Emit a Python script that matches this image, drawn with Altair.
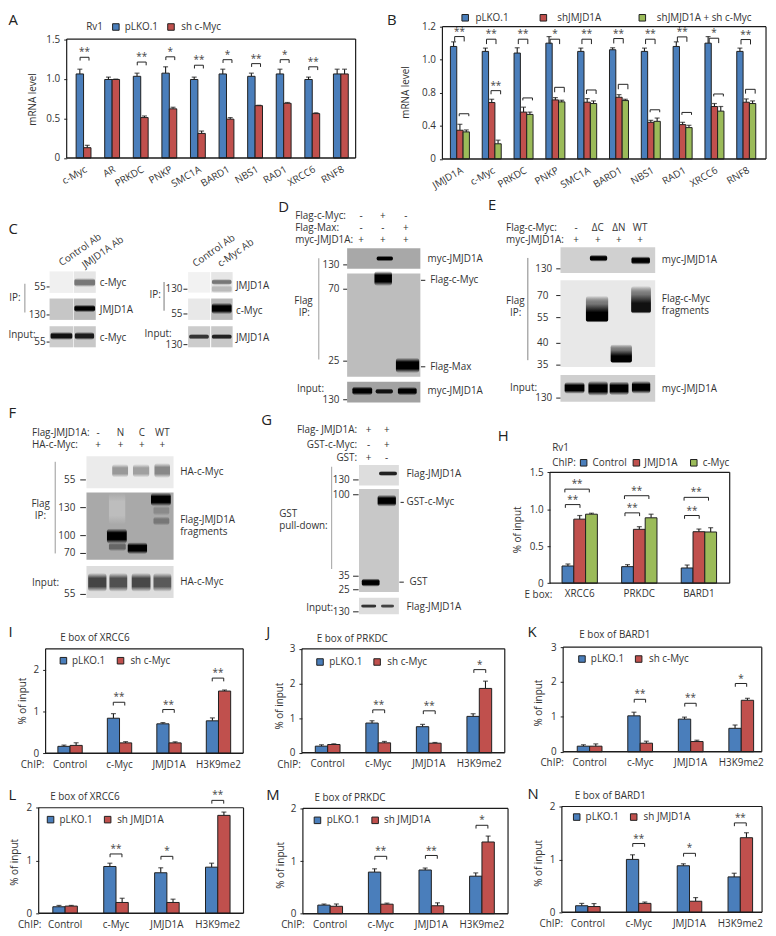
import altair as alt
import pandas as pd

FONT = "Open Sans"
INK = "#333333"
BLUE, RED, GREEN = "#4a7ebb", "#c0504d", "#9bbb59"
OFF = 8
W, H = 768, 928

# ---------- bar chart values ----------
A_cats = ["c-Myc", "AR", "PRKDC", "PNKP", "SMC1A", "BARD1", "NBS1", "RAD1", "XRCC6", "RNF8"]
A_plko = [1.06, 0.99, 1.03, 1.07, 0.99, 1.06, 1.03, 1.06, 0.99, 1.06]
A_plko_err = [0.06, 0.03, 0.04, 0.08, 0.03, 0.06, 0.04, 0.06, 0.03, 0.06]
A_sh = [0.13, 0.99, 0.51, 0.62, 0.31, 0.49, 0.66, 0.69, 0.56, 1.06]
A_sh_err = [0.03, 0.005, 0.02, 0.02, 0.03, 0.02, 0.005, 0.01, 0.01, 0.06]
A_br_cats = ["c-Myc", "PRKDC", "PNKP", "SMC1A", "BARD1", "NBS1", "RAD1", "XRCC6"]
A_br = [1.27, 1.21, 1.276, 1.17, 1.24, 1.19, 1.24, 1.15]
A_st = ["**", "**", "*", "**", "*", "**", "*", "**"]

B_cats = ["JMJD1A", "c-Myc", "PRKDC", "PNKP", "SMC1A", "BARD1", "NBS1", "RAD1", "XRCC6", "RNF8"]
B_plko = [1.08, 1.05, 1.04, 1.10, 1.05, 1.06, 1.05, 1.08, 1.10, 1.05]
B_plko_err = [0.028, 0.02, 0.032, 0.04, 0.02, 0.012, 0.02, 0.028, 0.04, 0.02]
B_sh = [0.348, 0.684, 0.568, 0.716, 0.688, 0.748, 0.444, 0.416, 0.636, 0.688]
B_sh_err = [0.072, 0.04, 0.06, 0.028, 0.044, 0.032, 0.024, 0.028, 0.036, 0.04]
B_shc = [0.328, 0.184, 0.54, 0.692, 0.672, 0.708, 0.456, 0.38, 0.58, 0.672]
B_shc_err = [0.024, 0.044, 0.028, 0.02, 0.032, 0.016, 0.04, 0.028, 0.056, 0.032]
B_up = [1.14, 1.124, 1.124, 1.124, 1.124, 1.128, 1.124, 1.138, 1.13, 1.122]
B_up_st = ["**", "**", "**", "*", "**", "**", "**", "**", "*", "**"]
B_lo = [0.548, 0.814, 0.74, 0.834, 0.818, 0.852, 0.596, 0.564, 0.788, 0.822]
B_lo_st = ["", "**", "", "", "", "", "", "", "", ""]

H_cats = ["XRCC6", "PRKDC", "BARD1"]
H_ctrl = [0.232, 0.223, 0.205]
H_ctrl_err = [0.027, 0.027, 0.04]
H_jm = [0.866, 0.728, 0.696]
H_jm_err = [0.049, 0.036, 0.036]
H_myc = [0.933, 0.884, 0.692]
H_myc_err = [0.013, 0.049, 0.058]
H_up = [1.272, 1.183, 1.161]
H_lo = [1.063, 0.951, 0.915]
H_st = ["**", "**", "**"]

CH = ["Control", "c-Myc", "JMJD1A", "H3K9me2"]
CH3 = CH[1:]
I_b = [0.167, 0.84, 0.706, 0.778]; I_be = [0.03, 0.11, 0.03, 0.07]
I_r = [0.19, 0.25, 0.25, 1.49];    I_re = [0.063, 0.03, 0.025, 0.025]
I_br = [1.222, 1.048, 1.80];       I_st = ["**", "**", "**"]
J_b = [0.19, 0.857, 0.752, 1.05];  J_be = [0.04, 0.067, 0.067, 0.076]
J_r = [0.238, 0.286, 0.276, 1.857]; J_re = [0.02, 0.04, 0.02, 0.21]
J_br = [1.238, 1.21, 2.4];         J_st = ["**", "**", "*"]
K_b = [0.16, 1.03, 0.936, 0.672];  K_be = [0.04, 0.104, 0.057, 0.095]
K_r = [0.16, 0.246, 0.293, 1.476]; K_re = [0.066, 0.057, 0.038, 0.057]
K_br = [1.504, 1.39, 1.958];       K_st = ["**", "**", "*"]
L_b = [0.125, 0.8875, 0.769, 0.875]; L_be = [0.025, 0.0625, 0.094, 0.075]
L_r = [0.1375, 0.206, 0.206, 1.856]; L_re = [0.0125, 0.08, 0.0625, 0.0625]
L_br = [1.125, 1.08, 2.14];        L_st = ["**", "*", "**"]
M_b = [0.1625, 0.79, 0.83, 0.7125]; M_be = [0.02, 0.0625, 0.0375, 0.0625]
M_r = [0.14, 0.18, 0.15, 1.3625];  M_re = [0.044, 0.02, 0.056, 0.1125]
M_br = [1.09, 1.106, 1.68];        M_st = ["**", "**", "*"]
N_b = [0.125, 1.0, 0.88, 0.67];    N_be = [0.044, 0.0875, 0.0375, 0.069]
N_r = [0.11, 0.17, 0.21, 1.41];    N_re = [0.056, 0.025, 0.069, 0.094]
N_br = [1.3, 1.115, 1.69];         N_st = ["**", "*", "**"]

# ---------- chart helpers ----------
def px_x(f="x", f2=None):
    return alt.X(f + ":Q", scale=alt.Scale(domain=[0, W], range=[0, W], nice=False), axis=None)

def px_y(f="y"):
    return alt.Y(f + ":Q", scale=alt.Scale(domain=[0, H], range=[0, H], nice=False), axis=None)


def bar_panel(cats, series, frame, xr, ydom, yrange, yvals, barw, brackets, ytitle, ytx, yty,
              angle=0, lab_pad=6, tick_lab_pad=4, axis_size=10, cap=5):
    l, t, r, b = [v - OFF for v in frame]
    rx = [xr[0] - OFF, xr[1] - OFF]
    ry = [v - OFF for v in yrange]
    n = len(series)
    names = [s[0] for s in series]
    step = (rx[1] - rx[0]) / len(cats)
    rows = []
    for name, col, vals, errs in series:
        for c, v, e in zip(cats, vals, errs):
            rows.append({"cat": c, "s": name, "v": v, "top": v + e})
    df = pd.DataFrame(rows)
    sx = alt.Scale(type="band", domain=cats, range=rx, paddingInner=0, paddingOuter=0)
    sy = alt.Scale(domain=ydom, range=ry, nice=False, zero=False)
    x_noax = alt.X("cat:N", scale=sx, axis=None)
    y_noax = alt.Y("v:Q", scale=sy, axis=None)
    half = step / 2
    pt_off = alt.XOffset("s:N", scale=alt.Scale(type="point", domain=names, padding=0,
                                                range=[half - barw * (n - 1) / 2, half + barw * (n - 1) / 2]))
    band_off = alt.XOffset("s:N", scale=alt.Scale(type="band", domain=names, paddingInner=0, paddingOuter=0,
                                                  range=[half - barw * n / 2, half + barw * n / 2]))
    xaxis = alt.Axis(orient="bottom", offset=-(H - b), ticks=False, domain=False, grid=False, title=None,
                     labelFont=FONT, labelFontSize=axis_size, labelColor=INK, labelPadding=lab_pad,
                     labelAngle=angle, labelOverlap=False, labelLimit=200,
                     **({"labelAlign": "right", "labelBaseline": "top"} if angle else {}))
    whole = all(float(v).is_integer() for v in yvals)
    yaxis = alt.Axis(orient="left", offset=-l, values=yvals, domain=False, grid=False,
                     tickSize=3, tickColor="#222222", labelPadding=tick_lab_pad,
                     labelFont=FONT, labelFontSize=axis_size, labelColor=INK,
                     labelExpr=("format(datum.value,'d')" if whole else
                                "datum.value == 0 ? '0' : format(datum.value,'.1f')"),
                     title=ytitle, titleFont=FONT, titleFontSize=axis_size, titleFontWeight="normal",
                     titleColor=INK, titleX=ytx - frame[0], titleY=yty - OFF, titleAngle=270,
                     titleAlign="center", titleBaseline="middle")
    layers = []
    layers.append(alt.Chart(df).mark_rule(color="#1a1a1a", strokeWidth=1.1).encode(
        x=x_noax, xOffset=pt_off, y=y_noax, y2="top:Q"))
    layers.append(alt.Chart(df).mark_tick(color="#1a1a1a", orient="horizontal", size=cap, thickness=1.2).encode(
        x=x_noax, xOffset=pt_off, y=alt.Y("top:Q", scale=sy, axis=None)))
    layers.append(alt.Chart(df).mark_bar(stroke="#1f1f1f", strokeWidth=1).encode(
        x=alt.X("cat:N", scale=sx, axis=xaxis), xOffset=band_off,
        y=alt.Y("v:Q", scale=sy, axis=yaxis),
        fill=alt.Fill("s:N", legend=None, scale=alt.Scale(domain=names, range=[s[1] for s in series]))))
    u = (ydom[-1] - ydom[0]) / abs(ry[0] - ry[-1])
    for bcats, tops, stars, (a, c) in brackets:
        rows = []
        for k, v in zip(bcats, tops):
            d = 3.3 * u
            rows += [{"cat": k, "side": "L", "o": 0, "y": v - d}, {"cat": k, "side": "L", "o": 1, "y": v},
                     {"cat": k, "side": "R", "o": 2, "y": v}, {"cat": k, "side": "R", "o": 3, "y": v - d}]
        layers.append(alt.Chart(pd.DataFrame(rows)).mark_line(color="#222222", strokeWidth=1).encode(
            x=x_noax,
            xOffset=alt.XOffset("side:N", scale=alt.Scale(type="point", domain=["L", "R"], padding=0,
                                                          range=[half + a, half + c])),
            y=alt.Y("y:Q", scale=sy, axis=None), order="o:Q", detail="cat:N"))
        tdf = pd.DataFrame({"cat": bcats, "v": tops, "t": stars})
        layers.append(alt.Chart(tdf).mark_text(font=FONT, fontSize=10, color="#444444", baseline="middle",
                                               dx=(a + c) / 2, dy=-5).encode(
            x=x_noax, y=y_noax, text="t:N"))
    return layers


def two(cats, nb, nr, eb, er, label2):
    return [("pLKO.1", BLUE, nb, eb), (label2, RED, nr, er)]


layers = []
# ---------- blot drawing tables ----------
BG = [
    (50, 74, 269.3, 291, "#f0f0f0"), (74.6, 96.7, 269.3, 291, "#e6e6e6"),
    (50, 74, 296.7, 318.3, "#c6c6c6"), (74.6, 96.7, 296.7, 318.3, "#b8b8b8"),
    (50, 74, 324.7, 346, "#cccccc"), (74.6, 96.7, 324.7, 346, "#c8c8c8"),
    (190, 212.3, 270, 290.7, "#f2f2f2"), (213.3, 235, 270, 290.7, "#e6e6e6"),
    (190, 212.3, 296.7, 318.3, "#e8e8e8"), (213.3, 235, 296.7, 318.3, "#b8b8b8"),
    (190, 212.3, 324.7, 346, "#cccccc"), (213.3, 235, 324.7, 346, "#c8c8c8"),
    (350.7, 424.7, 246, 266.7, "#a8a8a8"), (350.7, 424.7, 271.3, 375.7, "#bdbdbd"),
    (350.7, 424.7, 380.7, 401.7, "#a2a2a2"),
    (566.3, 662, 245, 271, "#d0d0d0"), (566.3, 662, 278.3, 366, "#e8e8e8"),
    (566.3, 662, 374, 401, "#cfcfcf"),
    (87.3, 175.3, 456, 488.3, "#ebebeb"), (87.3, 175.3, 492.7, 560.7, "#a9a9a9"),
    (87.3, 175.3, 567, 599.3, "#dddddd"),
    (362.7, 403, 465, 485.7, "#dddddd"), (362.7, 403, 489.3, 593.3, "#c8c8c8"),
    (362.7, 403, 599, 615.7, "#dddddd"),
]
BANDS = [
    (75, 96, 276, 285, "#777777", "soft"), (75, 96, 303, 310.5, "#000000", "soft"),
    (51, 73, 330.5, 338.5, "#111111", "soft"), (75.5, 95, 330.5, 338.5, "#1c1c1c", "soft"),
    (214, 234, 283, 291, "#bbbbbb", "soft"), (214, 234, 277, 283, "#777777", "soft"),
    (214, 234, 301, 312.5, "#000000", "soft"),
    (191, 211, 332.5, 338, "#333333", "soft"), (214, 234, 332.5, 338, "#222222", "soft"),
    (380.5, 397, 253.5, 259, "#000000", "soft"), (378.3, 396, 269, 284, "#000000", "soft"),
    (400, 423.5, 356.5, 372, "#000000", "soft"),
    (356, 376, 385.5, 394.5, "#000000", "soft"), (379.5, 397, 387.5, 393.5, "#111111", "soft"),
    (402, 421, 386, 394.5, "#000000", "soft"),
    (596, 613.5, 252.5, 259.5, "#000000", "soft"), (638, 656.7, 254, 262.5, "#000000", "soft"),
    (592, 614.5, 294, 321, "#000000", "ramp"), (637.7, 657.7, 284, 312, "#111111", "ramp"),
    (617, 638.5, 343, 362, "#000000", "ramp"),
    (570.5, 590.5, 381, 393, "#000000", "soft"), (594.5, 614, 380, 395, "#000000", "soft"),
    (616, 635, 380.5, 394.5, "#000000", "soft"), (638.5, 657, 380, 393, "#000000", "soft"),
    (113.3, 129.3, 464, 477.5, "#999999", "soft"), (134.3, 150.7, 464, 477.5, "#a0a0a0", "soft"),
    (156, 171.7, 463, 478, "#888888", "soft"),
    (110, 126.5, 493, 525, "#bdbdbd", "soft"), (110, 127, 543, 552, "#666666", "soft"),
    (155, 171, 506, 516, "#8a8a8a", "soft"), (155, 171, 517, 526, "#777777", "soft"),
    (152.5, 172.5, 493, 506.5, "#000000", "soft"), (108, 128, 529, 544.5, "#000000", "soft"),
    (129, 148.5, 543, 555, "#000000", "soft"),
    (89, 107.5, 574, 593, "#444444", "soft"), (110.5, 128.5, 574, 593, "#505050", "soft"),
    (133, 152, 574, 593, "#484848", "soft"), (155, 173, 574, 593, "#5a5a5a", "soft"),
    (383, 401, 471, 476, "#222222", "soft"), (381.5, 400, 495, 507, "#000000", "soft"),
    (365.5, 383.5, 579.5, 588, "#000000", "soft"),
    (365, 380, 605.5, 609.5, "#333333", "soft"), (385, 398, 605.5, 609.5, "#444444", "soft"),
]
RULES = [
    (25, 281.7, 25, 310.7, "#b0b0b0", 1.4), (165.7, 280, 165.7, 309, "#555555", 0.8),
    (322, 256, 322, 358.3, "#b8b8b8", 1.4), (533.3, 255.7, 533.3, 359, "#666666", 0.8),
    (55.7, 461.7, 55.7, 554.3, "#999999", 1), (335, 466.7, 335, 570, "#b0b0b0", 1.2),
]
TICKS = [
    (47, 285, 50), (47, 313.3, 50), (47, 340.7, 50),
    (185.3, 287.3, 189.3), (185.3, 312.3, 189.3), (185.3, 343.3, 189.3),
    (346.7, 262.7, 350.7), (346.7, 287.3, 350.7), (346.7, 360, 350.7), (346.7, 399, 350.7),
    (425.3, 278.3, 429.7), (425.3, 365.7, 429.7),
    (562, 266.7, 566.3), (562, 293.7, 566.3), (562, 316, 566.3), (562, 342, 566.3), (562, 364, 566.3), (562, 397.3, 566.3),
    (81, 480, 86.7), (81, 508, 86.7), (81, 536.3, 86.7), (81, 554.3, 86.7), (81, 595.7, 86.7),
    (356.7, 480, 362.3), (356.7, 495, 362.3), (356.7, 577.3, 362.3), (356.7, 591, 362.3), (356.7, 613.3, 362.3),
    (404.7, 502.7, 408), (403.5, 583.3, 408),
]
SWATCHES = [
    (117, 22.3, BLUE), (172.7, 22.3, RED),
    (470, 13, BLUE), (549, 13, RED), (649, 13, GREEN),
    (589.7, 462.7, BLUE), (643, 462.7, RED), (701, 462.7, GREEN),
    (64, 662.7, BLUE), (121.7, 662.7, RED),
    (323.3, 664, BLUE), (381, 664, RED),
    (588, 661, BLUE), (645.3, 661, RED),
    (51, 823.3, BLUE), (108.7, 823.3, RED),
    (320.7, 824, BLUE), (379, 824, RED),
    (582.7, 820.7, BLUE), (640.3, 820.7, RED),
]
LETTERS = [
    (8.5, 15, "A"), (391, 15, "B"), (8.5, 226.7, "C"), (281, 204, "D"), (493, 202.7, "E"), (8.5, 412.7, "F"),
    (264, 420, "G"), (503, 436, "H"), (8.5, 634, "I"), (269, 634, "J"), (533, 634, "K"),
    (8.5, 798.3, "L"), (269, 798, "M"), (533, 797, "N"),
]
TEXT_LEFT = [
    (87, 22.3, "Rv1"), (126, 22.3, "pLKO.1"), (183, 22.3, "sh c-Myc"),
    (480.3, 13, "pLKO.1"), (563, 13, "shJMJD1A"), (663.7, 13, "shJMJD1A + sh c-Myc"),
    (100.7, 281, "c-Myc"), (100.7, 308.3, "JMJD1A"), (100.7, 336.7, "c-Myc"),
    (9.3, 295.7, "IP:"), (8.5, 334, "Input:"),
    (238.3, 283.7, "JMJD1A"), (238.3, 309.3, "c-Myc"), (238.3, 336.7, "JMJD1A"),
    (151, 293.3, "IP:"), (146, 332.7, "Input:"),
    (298.3, 213.3, "Flag-c-Myc:"), (298.3, 225.3, "Flag-Max:"), (298.3, 237.7, "myc-JMJD1A:"),
    (297.3, 299, "Flag"), (301.7, 311, "IP:"), (300, 387.7, "Input:"),
    (432, 256.7, "myc-JMJD1A"), (434.7, 278.3, "Flag-c-Myc"), (434.7, 365.7, "Flag-Max"), (432, 390.3, "myc-JMJD1A"),
    (511.3, 225, "Flag-c-Myc:"), (511.3, 237.3, "myc-JMJD1A:"),
    (511.3, 299.3, "Flag"), (515.3, 311.7, "IP:"), (515.3, 386.7, "Input:"),
    (668.7, 257.7, "myc-JMJD1A"), (668.7, 297.3, "Flag-c-Myc"), (668.7, 309.3, "fragments"), (668.7, 388.3, "myc-JMJD1A"),
    (32.3, 432.7, "Flag-JMJD1A:"), (32.3, 445, "HA-c-Myc:"),
    (31.7, 504.3, "Flag"), (35, 516.7, "IP:"), (32.3, 583.7, "Input:"),
    (182, 471.7, "HA-c-Myc"), (182, 520.7, "Flag-JMJD1A"), (182, 532.7, "fragments"), (182, 583, "HA-c-Myc"),
    (282, 514.3, "GST"), (282, 526.7, "pull-down:"), (309.3, 609, "Input:"),
    (410.7, 474.3, "Flag-JMJD1A"), (410.7, 502.7, "GST-c-Myc"), (413.7, 583.3, "GST"), (410.7, 608.7, "Flag-JMJD1A"),
    (558, 448, "Rv1"), (558, 462.7, "ChIP:"), (598.7, 462.7, "Control"), (651, 462.7, "JMJD1A"), (710, 462.7, "c-Myc"),
    (530, 596, "E box:"),
    (60.7, 640, "E box of XRCC6"), (72.7, 662.7, "pLKO.1"), (131.7, 662.7, "sh c-Myc"), (21, 767.7, "ChIP:"),
    (320, 640.7, "E box of PRKDC"), (332.7, 664, "pLKO.1"), (391.3, 664, "sh c-Myc"), (280, 768, "ChIP:"),
    (585.3, 637, "E box of BARD1"), (597, 661, "pLKO.1"), (655.7, 661, "sh c-Myc"), (546, 766.3, "ChIP:"),
    (50.7, 800, "E box of XRCC6"), (60, 823.3, "pLKO.1"), (118.3, 823.3, "sh JMJD1A"), (18, 929.3, "ChIP:"),
    (317.7, 801.3, "E box of PRKDC"), (330, 824, "pLKO.1"), (388, 824, "sh JMJD1A"), (284, 930, "ChIP:"),
    (580.7, 799.3, "E box of BARD1"), (591.7, 820.7, "pLKO.1"), (650.3, 820.7, "sh JMJD1A"), (545, 928.3, "ChIP:"),
]
TEXT_RIGHT = [
    (46, 285, "55"), (46, 313.3, "130"), (46, 340.7, "55"),
    (184.3, 287.3, "130"), (184.3, 312.3, "55"), (184.3, 343.3, "130"),
    (343, 262.7, "130"), (343, 287.3, "70"), (343, 360, "25"), (343, 399, "130"),
    (558, 266.7, "130"), (554, 293.7, "70"), (554, 316, "55"), (554, 342, "40"), (554, 364, "35"), (558, 397.3, "130"),
    (76, 480, "55"), (76, 508, "130"), (76, 536.3, "100"), (76, 554.3, "70"), (76, 595.7, "55"),
    (353.3, 480, "130"), (353.3, 495, "100"), (353.3, 577.3, "35"), (353.3, 591, "25"), (353.3, 613.3, "130"),
    (360.7, 430, "Flag- JMJD1A:"), (360.7, 444.3, "GST-c-Myc:"), (360.7, 458.3, "GST:"),
]
TEXT_CENTER = [
    (364.7, 213.3, "-"), (386.7, 213.3, "+"), (410, 213.3, "-"),
    (364.7, 225.3, "-"), (386.7, 225.3, "-"), (410, 225.3, "+"),
    (364.7, 237.7, "+"), (386.7, 237.7, "+"), (410, 237.7, "+"),
    (582, 225, "-"), (604, 225, "ΔC"), (625.3, 225, "ΔN"), (646.7, 225, "WT"),
    (582, 237.3, "+"), (604, 237.3, "+"), (625.3, 237.3, "+"), (646.7, 237.3, "+"),
    (99, 432.7, "-"), (121.7, 432.7, "N"), (143.3, 432.7, "C"), (164, 432.7, "WT"),
    (99, 445, "+"), (121.7, 445, "+"), (143.3, 445, "+"), (164, 445, "+"),
    (372.3, 430, "+"), (390.7, 430, "+"), (372.3, 444.3, "-"), (390.7, 444.3, "+"),
    (372.3, 458.3, "+"), (390.7, 458.3, "-"),
]
TEXT_SLANT = [
    (60.7, 261.7, "Control Ab"), (84, 264, "JMJD1A Ab"), (195.7, 262.7, "Control Ab"), (221, 262.7, "c-Myc Ab"),
]


def frame_df(rows, cols):
    d = pd.DataFrame(rows, columns=cols)
    for c in d.columns:
        if c in ("x", "x2", "y", "y2"):
            d[c] = d[c] - OFF
    return d


layers.append(alt.Chart(frame_df(BG, ["x", "x2", "y", "y2", "f"])).mark_rect().encode(
    x=px_x(), x2="x2:Q", y=px_y(), y2="y2:Q", fill=alt.Fill("f:N", scale=None)))
band_df = frame_df(BANDS, ["x", "x2", "y", "y2", "c", "st"])
for (c, st), g in band_df.groupby(["c", "st"], sort=False):
    t = "rgba(%d,%d,%d,0)" % tuple(int(c[i:i + 2], 16) for i in (1, 3, 5))
    if st == "soft":
        stops = [alt.GradientStop(offset=0, color=t), alt.GradientStop(offset=0.28, color=c),
                 alt.GradientStop(offset=0.72, color=c), alt.GradientStop(offset=1, color=t)]
    else:
        stops = [alt.GradientStop(offset=0, color=t), alt.GradientStop(offset=0.3, color="#777777"),
                 alt.GradientStop(offset=0.62, color=c), alt.GradientStop(offset=0.93, color=c),
                 alt.GradientStop(offset=1, color=t)]
    grad = alt.LinearGradient(gradient="linear", stops=stops, x1=0, y1=0, x2=0, y2=1)
    layers.append(alt.Chart(g).mark_rect(fill=grad, cornerRadius=3).encode(
        x=px_x(), x2="x2:Q", y=px_y(), y2="y2:Q"))

layers += bar_panel(A_cats, two(A_cats, A_plko, A_sh, A_plko_err, A_sh_err, "sh c-Myc"),
                    (67.3, 34.5, 359.3, 154.7), (69.9, 358.8), [0, 1.5], [154.7, 34.5], [0, 0.5, 1, 1.5], 7.5,
                    [(A_br_cats, A_br, A_st, (-3.5, 5.5))], "mRNA level", 32.3, 95, angle=330, lab_pad=6)
layers += bar_panel(B_cats, [("pLKO.1", BLUE, B_plko, B_plko_err), ("shJMJD1A", RED, B_sh, B_sh_err),
                             ("shJMJD1A + sh c-Myc", GREEN, B_shc, B_shc_err)],
                    (447, 22, 774, 155.7), (448.6, 770.1), [0, 0.4, 0.8, 1.0, 1.2], [155.7, 122.3, 89, 55.3, 22],
                    [0, 0.4, 0.8, 1.0, 1.2], 6.4,
                    [(B_cats, B_up, B_up_st, (-5.3, 4.3)), (B_cats, B_lo, B_lo_st, (-0.7, 9))],
                    "mRNA level", 409.7, 88, angle=330, lab_pad=6)
layers += bar_panel(H_cats, [("Control", BLUE, H_ctrl, H_ctrl_err), ("JMJD1A", RED, H_jm, H_jm_err),
                             ("c-Myc", GREEN, H_myc, H_myc_err)],
                    (555.7, 472.3, 737.3, 584.3), (555.6, 736.3), [0, 1.5], [584.3, 472.3], [0, 0.5, 1, 1.5], 11.9,
                    [(H_cats, H_up, H_st, (-15, 9.7)), (H_cats, H_lo, H_st, (-14.5, 0.3))],
                    "% of input", 523, 530)
layers += bar_panel(CH, two(CH, I_b, I_r, I_be, I_re, "sh c-Myc"), (46, 650.7, 245.7, 756.3), (45.7, 245.7),
                    [0, 2.5], [756.3, 650.7], [0, 1, 2], 12.3, [(CH3, I_br, I_st, (-6.3, 5.3))], "% of input", 22.7, 703)
layers += bar_panel(CH, two(CH, J_b, J_r, J_be, J_re, "sh c-Myc"), (305, 650.7, 510, 755.7), (305.5, 509.8),
                    [0, 3], [755.7, 650.7], [0, 1, 2, 3], 12.5, [(CH3, J_br, J_st, (-5.5, 6.5))], "% of input", 282, 708)
layers += bar_panel(CH, two(CH, K_b, K_r, K_be, K_re, "sh c-Myc"), (569, 649, 769.7, 754.7), (570.2, 774.5),
                    [0, 3], [754.7, 649], [0, 1, 2, 3], 12.5, [(CH3, K_br, K_st, (-6, 5.5))], "% of input", 543.7, 705)
layers += bar_panel(CH, two(CH, L_b, L_r, L_be, L_re, "sh JMJD1A"), (39, 811.3, 246, 918), (40, 245.7),
                    [0, 2], [918, 811.3], [0, 1, 2], 12.4, [(CH3, L_br, L_st, (-6, 6))], "% of input", 15, 866)
layers += bar_panel(CH, two(CH, M_b, M_r, M_be, M_re, "sh JMJD1A"), (306, 812, 513.3, 918.3), (308, 512.5),
                    [0, 2], [918.3, 812], [0, 1, 2], 12.5, [(CH3, M_br, M_st, (-6, 6))], "% of input", 283, 869)
layers += bar_panel(CH, two(CH, N_b, N_r, N_be, N_re, "sh JMJD1A"), (567.7, 810, 770, 917), (568.3, 773.7),
                    [0, 2], [917, 810], [0, 1, 2], 12.4, [(CH3, N_br, N_st, (-6, 6))], "% of input", 544, 867)

FRAMES = [(67.3, 34.5, 359.3, 154.7), (447, 22, 774, 155.7), (555.7, 472.3, 737.3, 584.3), (46, 650.7, 245.7, 756.3),
          (305, 650.7, 510, 755.7), (569, 649, 769.7, 754.7), (39, 811.3, 246, 918), (306, 812, 513.3, 918.3),
          (567.7, 810, 770, 917)]
FRAME_RULES = []
for fl, ft, fr, fb in FRAMES:
    FRAME_RULES += [(fl, ft, fr, ft, "#1c1c1c", 1.2), (fr, ft, fr, fb, "#1c1c1c", 1.2),
                    (fl, ft, fl, fb, "#1c1c1c", 1.2), (fl, fb, fr, fb, "#1c1c1c", 1.5)]

rule_df = frame_df(RULES + FRAME_RULES, ["x", "y", "x2", "y2", "c", "w"])
layers.append(alt.Chart(rule_df).mark_rule().encode(
    x=px_x(), x2="x2:Q", y=px_y(), y2="y2:Q", color=alt.Color("c:N", scale=None),
    strokeWidth=alt.StrokeWidth("w:Q", scale=None)))
tick_df = frame_df(TICKS, ["x", "y", "x2"])
layers.append(alt.Chart(tick_df).mark_rule(color="#222222", strokeWidth=1).encode(
    x=px_x(), x2="x2:Q", y=px_y()))

sw = pd.DataFrame(SWATCHES, columns=["cx", "cy", "c"])
sw["x"] = sw.cx - 3.3 - OFF
sw["x2"] = sw.cx + 3.3 - OFF
sw["y"] = sw.cy - 3.3 - OFF
sw["y2"] = sw.cy + 3.3 - OFF
layers.append(alt.Chart(sw).mark_rect(stroke="#1f1f1f", strokeWidth=1).encode(
    x=px_x(), x2="x2:Q", y=px_y(), y2="y2:Q", fill=alt.Fill("c:N", scale=None)))


def text_layer(rows, align, size=10, angle=None, color=INK):
    d = frame_df(rows, ["x", "y", "t"])
    kw = {"angle": angle} if angle is not None else {}
    return alt.Chart(d).mark_text(font=FONT, fontSize=size, color=color, align=align, baseline="middle", **kw).encode(
        x=px_x(), y=px_y(), text="t:N")


layers.append(text_layer(LETTERS, "left", 15, color="#222222"))
layers.append(text_layer(TEXT_LEFT, "left"))
layers.append(text_layer(TEXT_RIGHT, "right"))
layers.append(text_layer(TEXT_CENTER, "center"))
layers.append(text_layer(TEXT_SLANT, "left", angle=325))

chart = alt.layer(*layers).resolve_scale(
    x="independent", y="independent", fill="independent", xOffset="independent"
).resolve_axis(x="independent", y="independent").properties(
    width=W, height=H, padding=0, autosize=alt.AutoSizeParams(type="none"),
    background="white"
).configure_view(stroke=None)

chart.save("out.html", embed_options={"renderer": "svg", "actions": False})
